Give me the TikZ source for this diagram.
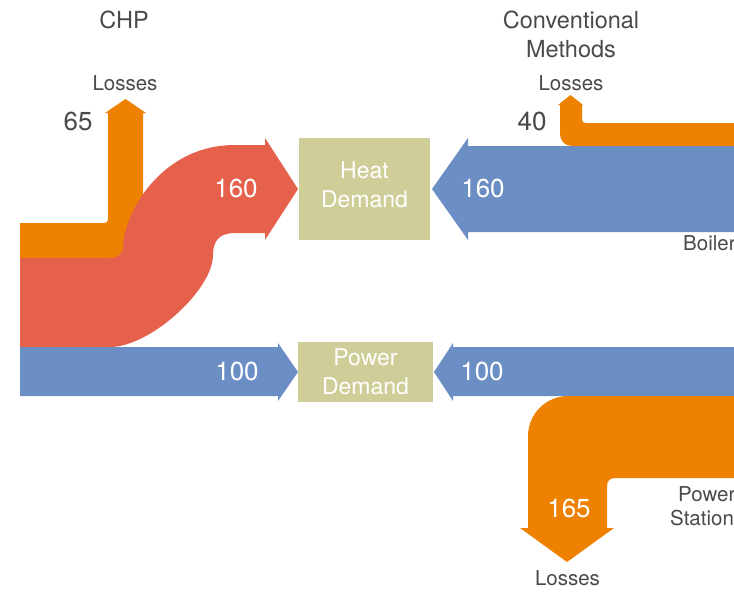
\documentclass[tikz,border=0pt]{standalone}
\usepackage{fontspec}
\setmainfont{TeX Gyre Heros}
\definecolor{flowor}{RGB}{238,130,0}
\definecolor{flowred}{RGB}{229,97,75}
\definecolor{flowblue}{RGB}{107,142,196}
\definecolor{boxtan}{RGB}{207,205,152}
\definecolor{txtgray}{RGB}{74,74,74}
\tikzset{
  demandbox/.style={fill=boxtan, draw=none, inner sep=0pt, outer sep=0pt},
  head/.style={text=txtgray, inner sep=0pt, anchor=base, font=\fontsize{23.5}{28}\selectfont},
  small/.style={text=txtgray, inner sep=0pt, anchor=base, font=\fontsize{20.5}{24}\selectfont},
  num/.style={text=txtgray, inner sep=0pt, anchor=base, font=\fontsize{26}{30}\selectfont},
  wnum/.style={text=white, inner sep=0pt, anchor=base, font=\fontsize{26}{30}\selectfont},
  boxtxt/.style={text=white, inner sep=0pt, anchor=base, font=\fontsize{23}{28}\selectfont},
}
\begin{document}
\begin{tikzpicture}[x=1pt,y=-1pt]
\useasboundingbox (0,0) rectangle (734,592);
\fill[white] (0,0) rectangle (734,592);

% CHP losses (orange, 65)
\fill[flowor] (20,223) -- (104,223) .. controls (107,223) and (108,222) .. (108,219)
  -- (108,113) -- (105,113) -- (125.5,99) -- (146,113) -- (143,113) -- (143,258) -- (20,258) -- cycle;

% CHP heat (red, 160)
\fill[flowred] (20,258) -- (110,258) .. controls (118,258) and (123,253) .. (123,248)
  .. controls (123,215) and (160,145) .. (235,145) -- (265,145) -- (265,138) -- (298,189)
  -- (265,240) -- (265,233) -- (235,233) .. controls (220,233) and (213,240) .. (213,255)
  .. controls (213,290) and (150,347) .. (110,347) -- (20,347) -- cycle;

% CHP power (blue, 100)
\fill[flowblue] (20,347) -- (278,347) -- (278,343) -- (298,372) -- (278,401) -- (278,396) -- (20,396) -- cycle;

% Boiler heat (blue, 160)
\fill[flowblue] (734,146) -- (468,146) -- (468,138) -- (432,189) -- (468,240) -- (468,232) -- (734,232) -- cycle;

% Boiler losses (orange, 40)
\fill[flowor] (734,123) -- (586,123) .. controls (583,123) and (582,122) .. (582,119)
  -- (582,105) -- (583,105) -- (570.5,95) -- (558,105) -- (560,105) -- (560,134)
  .. controls (560,141) and (565,146) .. (572,146) -- (734,146) -- cycle;

% Power station power (blue, 100)
\fill[flowblue] (734,347) -- (453,347) -- (453,343) -- (434,372) -- (453,401) -- (453,396) -- (734,396) -- cycle;

% Power station losses (orange, 165)
\fill[flowor] (734,396) -- (568,396) .. controls (546,396) and (528,414) .. (528,436)
  -- (528,528) -- (520,528) -- (567,562) -- (614,528) -- (607,528) -- (607,486)
  .. controls (607,481) and (610,478) .. (615,478) -- (734,478) -- cycle;

% demand boxes
\node[demandbox, minimum width=131pt, minimum height=102pt] (heat) at (364.5,189) {};
\node[demandbox, minimum width=135pt, minimum height=60pt] (power) at (365.5,372) {};
\node[boxtxt] (heatA) at (364.5,178) {Heat};
\node[boxtxt] (heatB) at (364.5,207) {Demand};
\node[boxtxt] (powA) at (365.5,365) {Power};
\node[boxtxt] (powB) at (365.5,394) {Demand};

% headings
\node[head] (chp) at (124,28) {CHP};
\node[head] (convA) at (571,28) {Conventional};
\node[head] (convB) at (571,57) {Methods};

% small labels
\node[small] (lossA) at (125,90) {Losses};
\node[small] (lossB) at (571,90) {Losses};
\node[small] (lossC) at (567.5,585) {Losses};
\node[small, anchor=base west] (boiler) at (683,250) {Boiler};
\node[small, anchor=base west] (psA) at (678,501) {Power};
\node[small, anchor=base west] (psB) at (670,525) {Station};

% numbers
\node[num] (n65) at (78,130) {65};
\node[num] (n40) at (532,130) {40};
\node[wnum] (n160a) at (236,197) {160};
\node[wnum] (n160b) at (483,197) {160};
\node[wnum] (n100a) at (237,380) {100};
\node[wnum] (n100b) at (482,380) {100};
\node[wnum] (n165) at (569,517) {165};
\end{tikzpicture}
\end{document}
